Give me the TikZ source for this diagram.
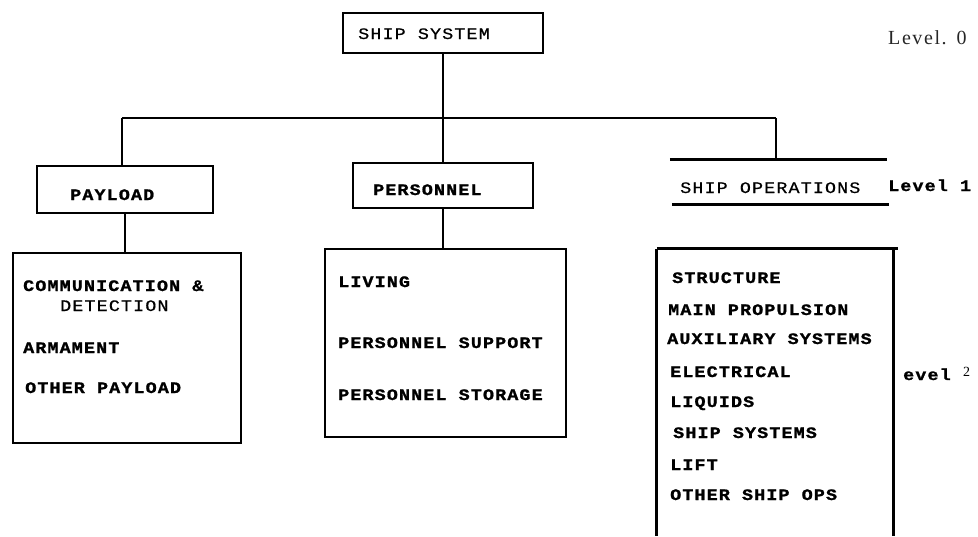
\documentclass[tikz,border=0pt]{standalone}
\usepackage{fontspec}
\newfontfamily\tw[FakeStretch=1.15, LetterSpace=7, FakeBold=0.6, BoldFeatures={FakeBold=1.2}]{Liberation Mono}
\newfontfamily\lvlserif[LetterSpace=8]{Liberation Serif}
\tikzset{
  lbl/.style={anchor=base west, inner sep=0, font=\tw\fontsize{16}{20}\selectfont\bfseries},
  lblr/.style={anchor=base west, inner sep=0, font=\tw\fontsize{16}{20}\selectfont},
  tbox/.style={draw, line width=1.3, inner sep=0},
  lbox/.style={draw, line width=2.6, inner sep=0},
  hidbox/.style={draw=none, inner sep=0},
  conn/.style={line width=1.3},
  bus/.style={line width=2.8},
  thick line/.style={line width=2.8},
}
\begin{document}
\begin{tikzpicture}[x=1pt,y=-1pt]
\useasboundingbox (0,0) rectangle (978,536);
% Level 0
\node[tbox, minimum width=200, minimum height=40] (sys) at (443,33) {};
\node[lblr] (sysl) at (358,39) {SHIP SYSTEM};
\node[anchor=base west, inner sep=0, font=\lvlserif\fontsize{20}{24}\selectfont, text=black!85] (lv0) at (888,44) {Level.\hspace{10pt}0};
% bus
\coordinate (bl) at (122,118);
\coordinate (br) at (776,118);
\draw[bus] (bl) -- (br);
\draw[conn] (sys.south) -- (sys.south |- bl);
% Level 1
\node[tbox, minimum width=176, minimum height=47] (pay) at (125,189.5) {};
\node[lbl] (payt) at (70,200) {PAYLOAD};
\node[tbox, minimum width=180, minimum height=45] (per) at (443,185.5) {};
\node[lbl] (pert) at (373,195) {PERSONNEL};
\node[hidbox, minimum width=217, minimum height=44] (ops) at (778.5,182) {};
\draw[thick line] (ops.north west) -- (ops.north east);
\draw[thick line] ([xshift=2]ops.south west) -- ([xshift=2]ops.south east);
\node[lblr] (opst) at (680,193) {SHIP OPERATIONS};
\node[lbl] (lv1) at (888,191) {Level 1};
\draw[conn] (bl) -- (bl |- pay.north);
\draw[conn] (per.north |- bl) -- (per.north);
\draw[thick line] (br) -- (br |- ops.north);
% Level 2
\node[lbox, minimum width=228, minimum height=190] (payl) at (127,348) {};
\node[lbl] at (23,291) {COMMUNICATION \&};
\node[lblr] at (60,311) {DETECTION};
\node[lbl] at (23,353) {ARMAMENT};
\node[lbl] at (25,393) {OTHER PAYLOAD};
\draw[conn] (pay.south) -- (pay.south |- payl.north);
\node[lbox, minimum width=241, minimum height=188] (perl) at (445.5,343) {};
\node[lbl] at (338,287) {LIVING};
\node[lbl] at (338,348) {PERSONNEL SUPPORT};
\node[lbl] at (338,400) {PERSONNEL STORAGE};
\draw[conn] (per.south) -- (per.south |- perl.north);
\node[hidbox, minimum width=236, minimum height=287] (opsl) at (775,392.5) {};
\draw[thick line] (opsl.north west) -- ([xshift=5]opsl.north east);
\draw[thick line] (opsl.north west) -- (opsl.south west);
\draw[thick line] (opsl.north east) -- (opsl.south east);
\node[lbl] at (672,283) {STRUCTURE};
\node[lbl] at (668,315) {MAIN PROPULSION};
\node[lbl] at (667,344) {AUXILIARY SYSTEMS};
\node[lbl] at (670,377) {ELECTRICAL};
\node[lbl] at (670,407) {LIQUIDS};
\node[lbl] at (673,438) {SHIP SYSTEMS};
\node[lbl] at (670,470) {LIFT};
\node[lbl] at (670,500) {OTHER SHIP OPS};
\node[lbl] (lv2) at (903,380) {evel};
\node[anchor=base west, inner sep=0, font=\fontspec{Liberation Serif}\fontsize{14}{16}\selectfont] (lv2s) at (963,376) {2};
\end{tikzpicture}
\end{document}
